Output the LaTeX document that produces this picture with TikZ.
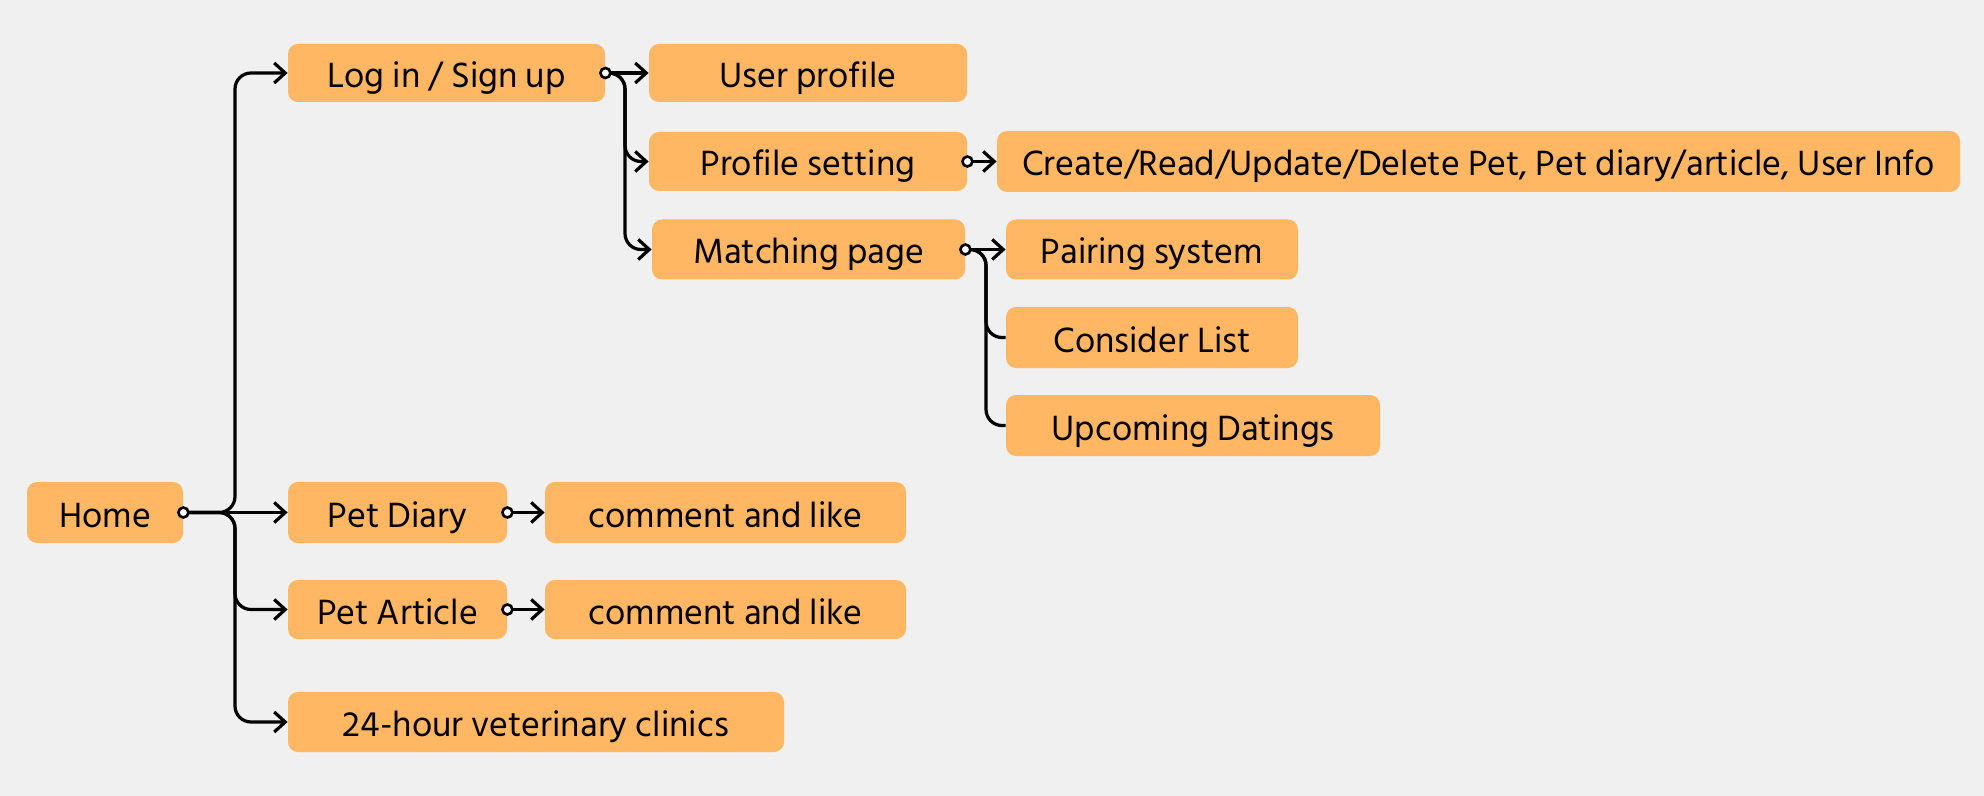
\documentclass[tikz,border=0pt]{standalone}
\usepackage{fontspec}
\setmainfont{Hind Siliguri}
\usetikzlibrary{arrows.meta}
\definecolor{bgc}{HTML}{F0F0F0}
\definecolor{boxc}{HTML}{FFB763}
\begin{document}
\begin{tikzpicture}[x=0.5pt,y=-0.5pt,
  bx/.style={fill=boxc,rounded corners=5pt,inner sep=0pt,font=\fontsize{18}{20}\selectfont,text=black,text height=17.5pt,text depth=3pt},
  conn/.style={line width=1.6pt,rounded corners=8pt},
  arr/.style={conn,-{Straight Barb[length=5.5pt,width=10pt,line width=1.6pt]}},
  dot/.style={circle,draw=black,fill=white,line width=1.3pt,inner sep=0pt,minimum size=5pt}]
\fill[bgc] (0,0) rectangle (1984,796);
\useasboundingbox (0,0) rectangle (1984,796);
% nodes
\node[bx,minimum width=78pt,minimum height=30.5pt] (home) at (105,512.5) {Home};
\node[bx,minimum width=158.5pt,minimum height=29pt] (login) at (446.5,73) {Log in / Sign up};
\node[bx,minimum width=159pt,minimum height=29pt] (user) at (808,73) {User profile};
\node[bx,minimum width=159pt,minimum height=29.5pt] (profset) at (808,161.5) {Profile setting};
\node[bx,minimum width=481.5pt,minimum height=30.5pt] (crud) at (1478.5,161.5) {Create/Read/Update/Delete Pet, Pet diary/article, User Info};
\node[bx,minimum width=156.5pt,minimum height=30pt] (match) at (808.5,249.5) {Matching page};
\node[bx,minimum width=146pt,minimum height=30pt] (pair) at (1152,249.5) {Pairing system};
\node[bx,minimum width=146pt,minimum height=30.5pt] (consider) at (1152,337.5) {Consider List};
\node[bx,minimum width=187pt,minimum height=30.5pt] (upcoming) at (1193,425.5) {Upcoming Datings};
\node[bx,minimum width=109.5pt,minimum height=30.5pt] (diary) at (397.5,512.5) {Pet Diary};
\node[bx,minimum width=180.5pt,minimum height=30.5pt] (cla) at (725.5,512.5) {comment and like};
\node[bx,minimum width=109.5pt,minimum height=29.5pt] (article) at (397.5,609.5) {Pet Article};
\node[bx,minimum width=180.5pt,minimum height=29.5pt] (clb) at (725.5,609.5) {comment and like};
\node[bx,minimum width=248pt,minimum height=30pt] (vet) at (536,722) {24-hour veterinary clinics};
% trunk coordinates
\coordinate (ht) at (235,512.5);
\coordinate (lt) at (625,73);
\coordinate (mt) at (986,249.5);
% connectors from Home
\draw[arr] (home.east) -- (diary.west);
\draw[arr] (home.east) -- (ht) |- (login.west);
\draw[arr] (home.east) -- (ht) |- (article.west);
\draw[arr] (home.east) -- (ht) |- (vet.west);
% from Log in
\draw[arr] (login.east) -- (user.west);
\draw[arr] (login.east) -- (lt) |- (profset.west);
\draw[arr] (login.east) -- (lt) |- (match.west);
% profile setting
\draw[arr] (profset.east) -- (crud.west);
% matching
\draw[arr] (match.east) -- (pair.west);
\draw[conn] (match.east) -- (mt) |- (consider.west);
\draw[conn] (match.east) -- (mt) |- (upcoming.west);
% diary / article
\draw[arr] (diary.east) -- (cla.west);
\draw[arr] (article.east) -- (clb.west);
% dots
\node[dot] (d1) at (home.east) {};
\node[dot] (d2) at (login.east) {};
\node[dot] (d3) at (profset.east) {};
\node[dot] (d4) at (match.east) {};
\node[dot] (d5) at (diary.east) {};
\node[dot] (d6) at (article.east) {};
\end{tikzpicture}
\end{document}
